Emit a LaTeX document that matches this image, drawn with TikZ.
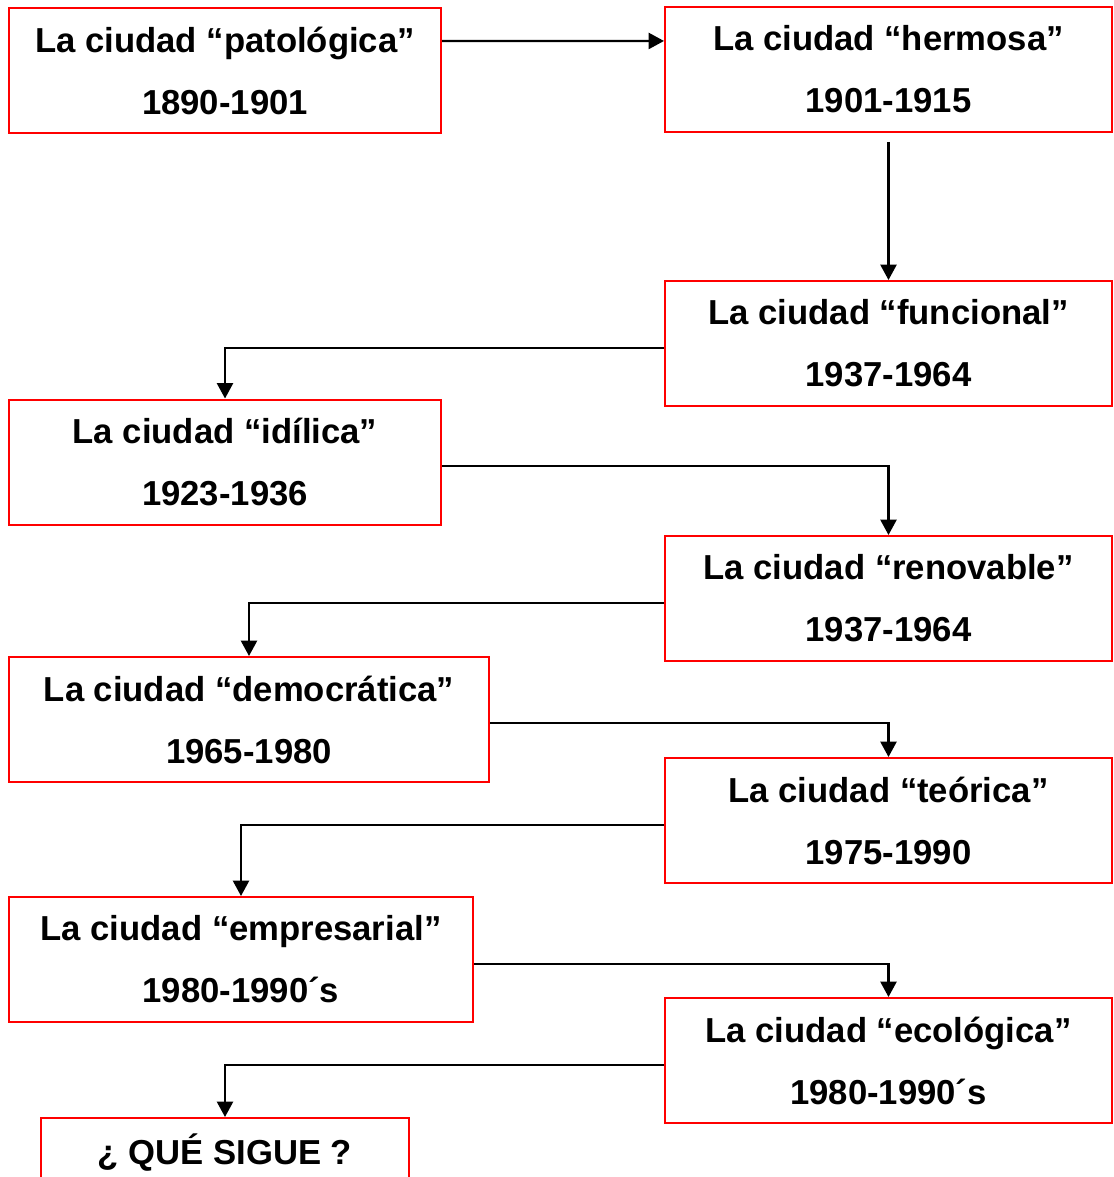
\documentclass[tikz,border=0pt]{standalone}
\usepackage{fontspec}
\setmainfont{Liberation Sans}
\usetikzlibrary{arrows.meta}
\tikzset{
  box/.style={draw=red, line width=1.5pt, align=center, inner sep=0pt,
    font=\bfseries\fontsize{26}{46.5}\selectfont, minimum height=93.75pt},
  conn/.style={draw=black, line width=1.7pt, -{Triangle[length=11.5pt,width=12pt]}},
}
\begin{document}
\begin{tikzpicture}[x=0.75pt,y=-0.75pt]
\useasboundingbox (0,0) rectangle (1113,1177);
\clip (0,0) rectangle (1113,1177);
\fill[white] (0,0) rectangle (1113,1177);

\node[box, minimum width=324pt]    (b1)  at (225,70.5)    {La ciudad “patológica”\\1890-1901};
\node[box, minimum width=335.25pt] (b2)  at (888.5,69.5)  {La ciudad “hermosa”\\1901-1915};
\node[box, minimum width=335.25pt] (b3)  at (888.5,343.5) {La ciudad “funcional”\\1937-1964};
\node[box, minimum width=324pt]    (b4)  at (225,462)     {La ciudad “idílica”\\1923-1936};
\node[box, minimum width=335.25pt] (b5)  at (888.5,598.5) {La ciudad “renovable”\\1937-1964};
\node[box, minimum width=360pt]    (b6)  at (249,719.5)   {La ciudad “democrática”\\1965-1980};
\node[box, minimum width=335.25pt] (b7)  at (888.5,820.5) {La ciudad “teórica”\\1975-1990};
\node[box, minimum width=348pt]    (b8)  at (241,959.5)   {La ciudad “empresarial”\\1980-1990´s};
\node[box, minimum width=335.25pt] (b9)  at (888.5,1060.5){La ciudad “ecológica”\\1980-1990´s};
\node[box, minimum width=276pt]    (b10) at (225,1180.5)  {¿ QUÉ SIGUE ?\\\phantom{1}};

\draw[conn] ([yshift=22.1pt]b1.east) -- ([yshift=21.4pt]b2.west);
\draw[conn] ([yshift=-6.75pt]b2.south) -- (b3.north);
\draw[conn] ([yshift=-3.4pt]b3.west) -| (b4.north);
\draw[conn] ([yshift=-3pt]b4.east) -| (b5.north);
\draw[conn] ([yshift=-3.4pt]b5.west) -| (b6.north);
\draw[conn] ([yshift=-2.6pt]b6.east) -| (b7.north);
\draw[conn] ([yshift=-3.4pt]b7.west) -| (b8.north);
\draw[conn] ([yshift=-3.4pt]b8.east) -| (b9.north);
\draw[conn] ([yshift=-3.4pt]b9.west) -| (b10.north);
\end{tikzpicture}
\end{document}
